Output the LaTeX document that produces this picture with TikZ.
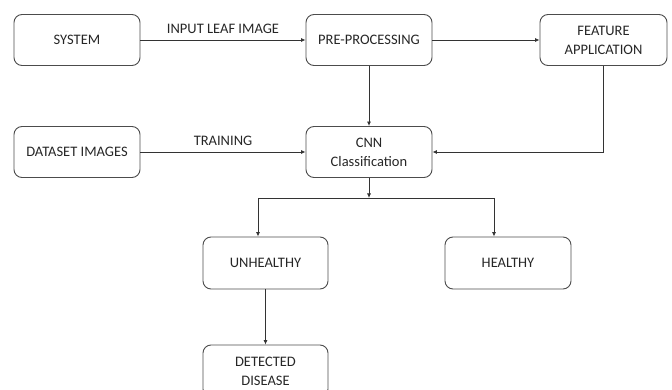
\documentclass[tikz,border=0pt]{standalone}
\usepackage{fontspec}
\setmainfont{Carlito}
\usetikzlibrary{arrows.meta}
\begin{document}
\begin{tikzpicture}[x=1pt,y=-1pt,
  box/.style={draw=black!70, line width=0.9pt, rounded corners=8pt, align=center,
    text=black!85, font=\fontsize{14.5}{19}\selectfont, inner sep=0pt},
  conn/.style={draw=black!80, line width=0.8pt},
  arr/.style={conn, -{Latex[length=4.5pt,width=4pt]}},
  lbl/.style={text=black!85, font=\fontsize{14.5}{17}\selectfont}]
\useasboundingbox (0,0) rectangle (672,390);
\clip (0,0) rectangle (672,390);
\node[box, minimum width=126pt, minimum height=51pt] (sys) at (77,40) {SYSTEM};
\node[box, minimum width=126pt, minimum height=51pt] (pre) at (369,40) {PRE-PROCESSING};
\node[box, minimum width=127pt, minimum height=51pt] (feat) at (603.5,40) {FEATURE\\APPLICATION};
\node[box, minimum width=126pt, minimum height=51pt] (data) at (77,152) {DATASET IMAGES};
\node[box, minimum width=126pt, minimum height=51pt] (cnn) at (369,152) {CNN\\Classification};
\node[box, minimum width=125pt, minimum height=52pt] (unh) at (265.5,263) {UNHEALTHY};
\node[box, minimum width=126pt, minimum height=52pt] (hea) at (508,263) {HEALTHY};
\node[box, minimum width=125pt, minimum height=52pt] (det) at (265.5,371) {DETECTED\\DISEASE};
\coordinate (br) at (369,198);
\coordinate (ul) at (258,198);
\coordinate (hr) at (494,198);
\draw[arr] (sys) -- (pre) node[lbl, midway, above=3pt] (l1) {INPUT LEAF IMAGE};
\draw[arr] (pre) -- (feat);
\draw[arr] (pre) -- (cnn);
\draw[arr] (feat.south) |- (cnn.east);
\draw[arr] (data) -- (cnn) node[lbl, midway, above=3pt] (l2) {TRAINING};
\draw[arr] (cnn) -- (br);
\draw[conn] (ul) -- (hr);
\draw[arr] (ul) -- (ul |- unh.north);
\draw[arr] (hr) -- (hr |- hea.north);
\draw[arr] (unh) -- (det);
\end{tikzpicture}
\end{document}
